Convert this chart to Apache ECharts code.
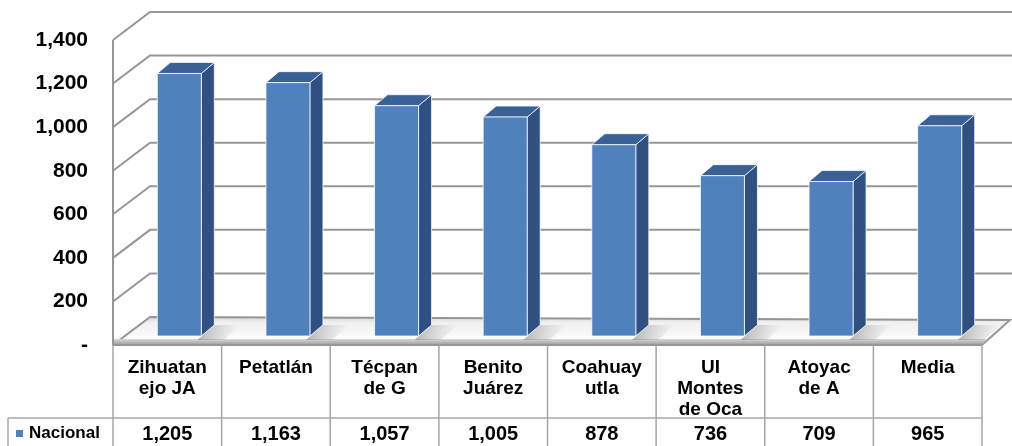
<!DOCTYPE html>
<html>
<head>
<meta charset="utf-8">
<script src="https://cdn.jsdelivr.net/npm/echarts@6/dist/echarts.min.js"></script>
<style>
html,body{margin:0;padding:0;background:#fff;}
#chart{width:1012px;height:446px;}
</style>
</head>
<body>
<div id="chart"></div>
<script>
// ---- data ----
// category names as they appear wrapped in the table cells
const categories = ['Zihuatan\nejo JA', 'Petatlán', 'Técpan\nde G', 'Benito\nJuárez', 'Coahuay\nutla', 'UI\nMontes\nde Oca', 'Atoyac\nde A', 'Media'];
const values = [1205, 1163, 1057, 1005, 878, 736, 709, 965];
const seriesName = 'Nacional';
const yTicks = [0, 200, 400, 600, 800, 1000, 1200, 1400];

const FONT = "'Liberation Sans', Arial, sans-serif";
const fmt = v => v === 0 ? '-' : v.toLocaleString('en-US');

const chart = echarts.init(document.getElementById('chart'), null, {renderer: 'canvas'});

const WALL_DX = 37, WALL_DY = -28;
const GRID_COLOR = '#969696';
const TABLE_COLOR = '#a6a6a6';

const option = {
  backgroundColor: '#ffffff',
  animation: false,
  grid: {left: 113, right: 30, top: 40, bottom: 101, containLabel: false, outerBoundsMode: 'none'},
  legend: {
    left: 16, top: 425, padding: 0, itemWidth: 7, itemHeight: 7, icon: 'rect',
    data: [seriesName],
    textStyle: {fontFamily: FONT, fontWeight: 'bold', fontSize: 17, color: '#000', padding: [0, 0, 0, 1]}
  },
  xAxis: {
    type: 'category', data: categories, boundaryGap: true,
    axisLine: {show: false}, axisTick: {show: false}, splitLine: {show: false},
    axisLabel: {
      interval: 0, margin: 12, verticalAlign: 'top', lineHeight: 21,
      fontFamily: FONT, fontWeight: 'bold', fontSize: 19, color: '#000'
    }
  },
  yAxis: {
    type: 'value', min: 0, max: 1400, interval: 200,
    axisLine: {show: false}, axisTick: {show: false}, splitLine: {show: false},
    axisLabel: {margin: 25, formatter: fmt, padding: [9, 0, 0, 0],
      fontFamily: FONT, fontWeight: 'bold', fontSize: 21, color: '#000'}
  },
  series: [
    {
      // walls, floor and gridlines (back wall + left wall diagonals)
      type: 'custom', name: 'walls', silent: true, z: 1,
      data: yTicks.map(v => [0, v]),
      encode: {x: 0, y: 1},
      renderItem: function (params, api) {
        const cs = params.coordSys;
        const p = api.coord([0, api.value(1)]);
        const y = p[1];
        const gx = cs.x, gw = cs.width;
        const children = [];
        if (api.value(1) === 0) {
          // floor top surface
          children.push({
            type: 'polygon', z2: 0,
            shape: {points: [[gx, y - 6], [gx + WALL_DX, y + WALL_DY], [gx + gw + 28, y + WALL_DY + 3], [gx + gw + 5, y - 6]]},
            style: {
              fill: new echarts.graphic.LinearGradient(0, 0, 0, 1, [
                {offset: 0, color: '#d6d6d6'}, {offset: 0.25, color: '#f0f0f0'}, {offset: 1, color: '#fbfbfb'}
              ])
            }
          });
          // floor back edge
          children.push({
            type: 'polyline', z2: 1,
            shape: {points: [[gx, y], [gx + WALL_DX, y + WALL_DY], [gx + gw + 28, y + WALL_DY + 3], [gx + gw, y]]},
            style: {stroke: GRID_COLOR, lineWidth: 2, fill: null}
          });
          // floor front thickness band
          children.push({
            type: 'polygon', z2: 1,
            shape: {points: [[gx, y - 6], [gx + gw + 5, y - 6], [gx + gw, y], [gx, y]]},
            style: {
              fill: new echarts.graphic.LinearGradient(0, 0, 0, 1, [
                {offset: 0, color: '#d8d8d8'}, {offset: 1, color: '#9c9c9c'}
              ])
            }
          });
        } else {
          children.push({
            type: 'polyline', z2: 1,
            shape: {points: [[gx, y], [gx + WALL_DX, y + WALL_DY], [1014, y + WALL_DY]]},
            style: {stroke: GRID_COLOR, lineWidth: 2, fill: null}
          });
        }
        if (api.value(1) === 1400) {
          const y0 = api.coord([0, 0])[1];
          children.push({
            type: 'line', z2: 1,
            shape: {x1: gx, y1: y, x2: gx, y2: y0},
            style: {stroke: GRID_COLOR, lineWidth: 2}
          });
        }
        return {type: 'group', children: children};
      }
    },
    {
      type: 'custom', name: seriesName, z: 3,
      itemStyle: {color: '#4F81BD'},
      data: values.map((v, i) => [i, v]),
      encode: {x: 0, y: 1},
      renderItem: function (params, api) {
        const c = api.coord([api.value(0), api.value(1)]);
        const b = api.coord([api.value(0), 0]);
        const bw = api.size([1, 0])[0] * 0.405;
        const ox = 12, oy = -9, dx = 13, dy = -11;
        const x0 = c[0] + ox - bw / 2, x1 = x0 + bw;
        const yt = c[1] + oy, yb = b[1] + oy;
        const edge = 'rgba(255,255,255,0.75)';
        return {
          type: 'group',
          children: [
            // soft shadow on the floor
            {type: 'polygon', shape: {points: [[x1 + dx, yb + dy], [x1 + dx + 26, yb + dy], [x1 + 22, yb + 4], [x1 - 4, yb + 4]]},
              style: {fill: new echarts.graphic.LinearGradient(0, 0, 1, 0, [
                {offset: 0, color: 'rgba(120,120,120,0.55)'}, {offset: 1, color: 'rgba(160,160,160,0)'}
              ])}},
            {type: 'polygon', shape: {points: [[x1, yt], [x1 + dx, yt + dy], [x1 + dx, yb + dy], [x1, yb]]},
              style: {fill: '#2F5081', stroke: edge, lineWidth: 1}},
            {type: 'polygon', shape: {points: [[x0, yt], [x1, yt], [x1 + dx, yt + dy], [x0 + dx, yt + dy]]},
              style: {fill: '#3A6195', stroke: edge, lineWidth: 1}},
            {type: 'rect', shape: {x: x0, y: yt, width: bw, height: yb - yt},
              style: {fill: '#4F81BD', stroke: edge, lineWidth: 1}}
          ]
        };
      }
    },
    {
      // data table below the chart
      type: 'custom', name: 'table', silent: true, z: 4,
      data: values.map((v, i) => [i, v]),
      encode: {x: 0, y: 1},
      renderItem: function (params, api) {
        const cs = params.coordSys;
        const i = api.value(0);
        const c = api.coord([i, 0]);
        const w = api.size([1, 0])[0];
        const top = cs.y + cs.height;
        const rowY = top + 73, bottom = 446;
        const left = c[0] - w / 2;
        const children = [
          {type: 'line', shape: {x1: left, y1: top, x2: left, y2: bottom}, style: {stroke: TABLE_COLOR, lineWidth: 1.5}},
          {type: 'text', style: {text: fmt(api.value(1)), x: c[0], y: rowY + 16, align: 'center', verticalAlign: 'middle',
            font: 'bold 20px ' + FONT, fill: '#000'}}
        ];
        if (i === categories.length - 1) {
          children.push({type: 'line', shape: {x1: left + w, y1: top, x2: left + w, y2: bottom}, style: {stroke: TABLE_COLOR, lineWidth: 1.5}});
        }
        if (i === 0) {
          children.push({type: 'line', shape: {x1: cs.x, y1: top, x2: cs.x + cs.width, y2: top}, style: {stroke: GRID_COLOR, lineWidth: 2}});
          children.push({type: 'line', shape: {x1: 8, y1: rowY, x2: cs.x + cs.width, y2: rowY}, style: {stroke: TABLE_COLOR, lineWidth: 1.5}});
          children.push({type: 'line', shape: {x1: 8, y1: rowY, x2: 8, y2: bottom}, style: {stroke: TABLE_COLOR, lineWidth: 1.5}});
        }
        return {type: 'group', children: children};
      }
    }
  ]
};
chart.setOption(option);
</script>
</body>
</html>
